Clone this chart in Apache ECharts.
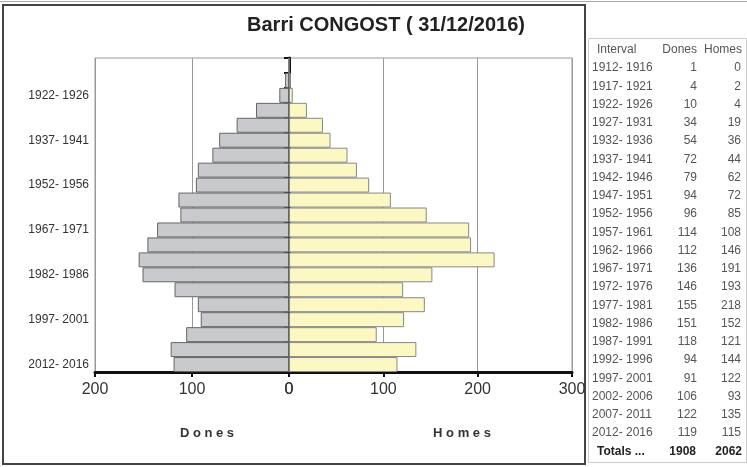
<!DOCTYPE html>
<html>
<head>
<meta charset="utf-8">
<script src="https://cdn.jsdelivr.net/npm/echarts@6/dist/echarts.min.js"></script>
<style>
  html, body { margin: 0; padding: 0; background: #fff; }
  #chart { width: 747px; height: 467px; }
</style>
</head>
<body>
<div id="chart"></div>
<script>
var intervals = ['1912- 1916', '1917- 1921', '1922- 1926', '1927- 1931', '1932- 1936', '1937- 1941',
  '1942- 1946', '1947- 1951', '1952- 1956', '1957- 1961', '1962- 1966', '1967- 1971', '1972- 1976',
  '1977- 1981', '1982- 1986', '1987- 1991', '1992- 1996', '1997- 2001', '2002- 2006', '2007- 2011',
  '2012- 2016'];
var dones = [1, 4, 10, 34, 54, 72, 79, 94, 96, 114, 112, 136, 146, 155, 151, 118, 94, 91, 106, 122, 119];
var homes = [0, 2, 4, 19, 36, 44, 62, 72, 85, 108, 146, 191, 193, 218, 152, 121, 144, 122, 93, 135, 115];
var leftTicks = [0, 100, 200];
var rightTicks = [0, 100, 200, 300];

var font = 'Liberation Sans, Arial, sans-serif';
var chart = echarts.init(document.getElementById('chart'));

function sum(a) {
  var s = 0;
  for (var i = 0; i < a.length; i++) s += a[i];
  return s;
}

// taula de la dreta
var tbl = [];
var rowY = 68, rowH = 18.25;
tbl.push({ type: 'rect', shape: { x: 588.5, y: 38.5, width: 158, height: 424 },
  style: { fill: '#fff', stroke: '#ccc', lineWidth: 1 } });
var head = { fill: '#555', font: '12px ' + font, textVerticalAlign: 'middle' };
tbl.push({ type: 'text', x: 597, y: 50, style: Object.assign({ text: 'Interval' }, head) });
tbl.push({ type: 'text', x: 697, y: 50, style: Object.assign({ text: 'Dones', textAlign: 'right' }, head) });
tbl.push({ type: 'text', x: 742, y: 50, style: Object.assign({ text: 'Homes', textAlign: 'right' }, head) });
for (var i = 0; i < intervals.length; i++) {
  var y = rowY + i * rowH;
  var st = { fill: '#555', font: '12px ' + font, textVerticalAlign: 'middle' };
  tbl.push({ type: 'text', x: 592, y: y, style: Object.assign({ text: intervals[i] }, st) });
  tbl.push({ type: 'text', x: 697, y: y, style: Object.assign({ text: String(dones[i]), textAlign: 'right' }, st) });
  tbl.push({ type: 'text', x: 741, y: y, style: Object.assign({ text: String(homes[i]), textAlign: 'right' }, st) });
}
var ty = rowY + intervals.length * rowH;
var bst = { fill: '#222', font: 'bold 12px ' + font, textVerticalAlign: 'middle' };
tbl.push({ type: 'text', x: 597, y: ty, style: Object.assign({ text: 'Totals ...' }, bst) });
tbl.push({ type: 'text', x: 696, y: ty, style: Object.assign({ text: String(sum(dones)), textAlign: 'right' }, bst) });
tbl.push({ type: 'text', x: 742, y: ty, style: Object.assign({ text: String(sum(homes)), textAlign: 'right' }, bst) });

function showLabel(i) {
  return (intervals.length - 1 - i) % 3 === 0;
}

chart.setOption({
  animation: false,
  textStyle: { fontFamily: font },
  title: {
    text: 'Barri CONGOST ( 31/12/2016)',
    left: 381, top: 10, textAlign: 'center',
    textStyle: { fontSize: 20, fontWeight: 'bold', color: '#222', fontFamily: font }
  },
  grid: [
    { left: 95, top: 58, width: 194, height: 314, show: true, borderColor: '#999', borderWidth: 1 },
    { left: 289, top: 58, width: 283, height: 314, show: true, borderColor: '#999', borderWidth: 1 }
  ],
  xAxis: [{
    gridIndex: 0, type: 'value', inverse: true, min: 0, max: leftTicks[leftTicks.length - 1], interval: 100,
    axisLine: { show: true, lineStyle: { color: '#111', width: 3 } },
    axisTick: { show: true, length: 5, lineStyle: { color: '#111', width: 2 } },
    axisLabel: { color: '#333', fontSize: 16, margin: 10 },
    splitLine: { show: true, lineStyle: { color: '#999' } }
  }, {
    gridIndex: 1, type: 'value', min: 0, max: rightTicks[rightTicks.length - 1], interval: 100,
    axisLine: { show: true, lineStyle: { color: '#111', width: 3 } },
    axisTick: { show: true, length: 5, lineStyle: { color: '#111', width: 2 } },
    axisLabel: { color: '#333', fontSize: 16, margin: 10 },
    splitLine: { show: true, lineStyle: { color: '#999' } }
  }],
  yAxis: [{
    gridIndex: 0, type: 'category', inverse: true, data: intervals, position: 'left',
    axisLine: { show: true, lineStyle: { color: '#111', width: 3 } },
    axisTick: { show: true, length: 5, interval: 0, lineStyle: { color: '#111', width: 2 } },
    axisLabel: { interval: showLabel, color: '#333', fontSize: 12, margin: 6 }
  }, {
    gridIndex: 1, type: 'category', inverse: true, data: intervals, position: 'left',
    axisLine: { show: true, lineStyle: { color: '#111', width: 2 } },
    axisTick: { show: true, length: 5, interval: 0, lineStyle: { color: '#111', width: 2 } },
    axisLabel: { show: false }
  }],
  series: [{
    name: 'Dones', type: 'bar', xAxisIndex: 0, yAxisIndex: 0, data: dones,
    barCategoryGap: '0%', z: 1,
    itemStyle: { color: '#c9cacd', borderColor: '#666', borderWidth: 1 }
  }, {
    name: 'Homes', type: 'bar', xAxisIndex: 1, yAxisIndex: 1, data: homes,
    barCategoryGap: '0%', z: 1,
    itemStyle: { color: '#fbf8c4', borderColor: '#888', borderWidth: 1 }
  }],
  graphic: [
    { type: 'rect', shape: { x: 3, y: 5, width: 582, height: 459 }, silent: true, z: -10,
      style: { fill: 'none', stroke: '#444', lineWidth: 2 } },
    { type: 'line', shape: { x1: 0, y1: 1.5, x2: 747, y2: 1.5 }, style: { stroke: '#aaa', lineWidth: 1 } },
    { type: 'text', x: 207, y: 433, style: { text: 'D o n e s', textAlign: 'center', textVerticalAlign: 'middle',
      fill: '#333', font: 'bold 13px ' + font } },
    { type: 'text', x: 462, y: 433, style: { text: 'H o m e s', textAlign: 'center', textVerticalAlign: 'middle',
      fill: '#333', font: 'bold 13px ' + font } },
    { type: 'group', children: tbl }
  ]
});
</script>
</body>
</html>
